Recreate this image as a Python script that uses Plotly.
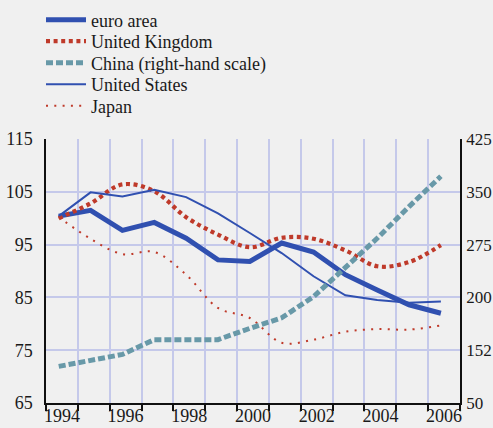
import plotly.graph_objects as go

years = list(range(1994, 2007))
euro_area = [100.4, 101.5, 97.7, 99.2, 96.2, 92.1, 91.8, 95.3, 93.6, 89.3, 86.4, 83.6, 82.0]
united_kingdom = [100.0, 102.8, 106.4, 105.1, 100.2, 96.9, 94.5, 96.3, 96.1, 93.9, 90.9, 91.7, 94.9]
china = [102, 110, 119, 140, 140, 140, 156, 171, 201, 242, 284, 329, 372]
united_states = [100.4, 104.9, 104.1, 105.4, 104.0, 100.9, 97.2, 93.4, 89.0, 85.4, 84.5, 84.0, 84.2]
japan = [100.2, 96.1, 93.2, 93.6, 89.3, 83.0, 81.1, 76.4, 77.0, 78.5, 79.0, 78.9, 79.7]

left_ticks = [65, 75, 85, 95, 105, 115]
right_ticks = [50, 125, 200, 275, 350, 425]
right_tick_labels = ["50", "152", "200", "275", "350", "425"]
label_years = [1994, 1996, 1998, 2000, 2002, 2004, 2006]

xpos = [y + 0.4 for y in years]

BLUE = "#3050b0"
RED = "#bf3a2a"
TEAL = "#6899a8"
FONT = "Liberation Serif"
FS = 18

fig = go.Figure()
fig.add_trace(go.Scatter(x=xpos, y=euro_area, name="euro area", mode="lines", legend="legend",
                         line=dict(color=BLUE, width=5)))
fig.add_trace(go.Scatter(x=xpos, y=united_kingdom, name="United Kingdom", mode="lines", legend="legend2",
                         line=dict(color=RED, width=4.2, dash="4px,3.6px", shape="spline")))
fig.add_trace(go.Scatter(x=xpos, y=china, name="China (right-hand scale)", mode="lines", legend="legend3",
                         yaxis="y2", line=dict(color=TEAL, width=5, dash="7px,3px")))
fig.add_trace(go.Scatter(x=xpos, y=united_states, name="United States", mode="lines", legend="legend4",
                         line=dict(color=BLUE, width=2)))
fig.add_trace(go.Scatter(x=xpos, y=japan, name="Japan", mode="lines", legend="legend5",
                         line=dict(color=RED, width=2, dash="2px,6.3px", shape="spline")))
fig.add_trace(go.Scatter(x=[1994, 2007], y=[65, 65], xaxis="x2", mode="lines",
                         line=dict(width=0), showlegend=False, hoverinfo="skip"))

T, B = 139, 25
H = 428 - T - B


def leg(ypx):
    return dict(x=41 / 493, xref="container", y=(428 - B - ypx) / H, xanchor="left", yanchor="middle",
                bgcolor="rgba(0,0,0,0)", itemwidth=40, borderwidth=0,
                font=dict(family=FONT, size=FS, color="#1a1a1a"))


fig.update_layout(
    width=493, height=428,
    margin=dict(l=46, r=33, t=T, b=B, autoexpand=False),
    paper_bgcolor="#f0f0f0", plot_bgcolor="#f0f0f0",
    font=dict(family=FONT, size=FS, color="#1a1a1a"),
    showlegend=True,
    legend=leg(20), legend2=leg(41.5), legend3=leg(63), legend4=leg(84.5), legend5=leg(106),
    xaxis=dict(range=[1994, 2007], tickvals=list(range(1994, 2008)),
               showticklabels=False, ticks="outside", ticklen=6, tickcolor="#111",
               tickwidth=1.5, showgrid=True, gridcolor="#c5c9ea", gridwidth=1.5,
               showline=True, linecolor="#111", linewidth=1.5, zeroline=False),
    xaxis2=dict(range=[1994, 2007], overlaying="x", anchor="y", side="bottom",
                tickvals=[y + 0.5 for y in label_years], ticktext=[str(y) for y in label_years],
                ticks="", showgrid=False, showline=False, zeroline=False, ticklabelstandoff=0),
    yaxis=dict(range=[65, 115], tickvals=left_ticks, ticks="", showgrid=True,
               gridcolor="#c5c9ea", gridwidth=1.5, showline=True, linecolor="#111",
               linewidth=1.5, zeroline=False, ticklabelstandoff=8),
    yaxis2=dict(range=[50, 425], tickvals=right_ticks, ticktext=right_tick_labels,
                overlaying="y", side="right", ticks="", showgrid=False, showline=True,
                linecolor="#111", linewidth=1.5, zeroline=False, ticklabelstandoff=1,
                tickfont=dict(size=17)),
)

fig.write_html("out.html", config={"displayModeBar": False},
               post_script="document.body.style.margin='0';document.body.style.padding='0';"
                           "document.body.style.overflow='hidden';"
                           "document.documentElement.style.overflow='hidden';")
